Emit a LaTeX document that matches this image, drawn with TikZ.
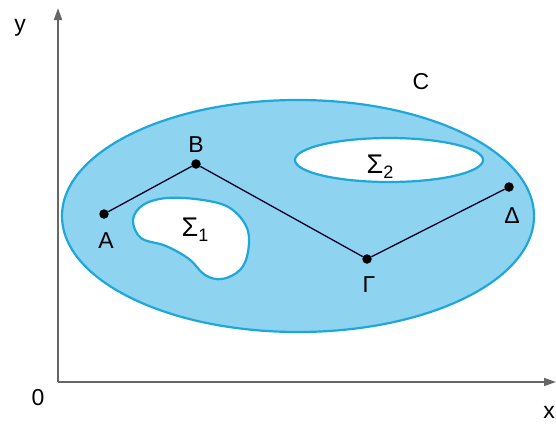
\documentclass[tikz,border=0pt]{standalone}
\usepackage{fontspec}
\setmainfont{Liberation Sans}
\usetikzlibrary{arrows.meta,positioning}
\definecolor{setblue}{HTML}{8ED3EF}
\definecolor{setedge}{HTML}{1EA7DA}
\newcommand{\lowidx}[1]{\raisebox{-0.35ex}{\fontsize{18}{20}\selectfont #1}}

\begin{document}
\begin{tikzpicture}[
  x=1pt, y=-1pt,
  axis/.style={draw=black!60, line width=1.6pt, -{Triangle[length=12pt, width=8pt]}},
  region/.style={fill=setblue, draw=setedge, line width=2.2pt},
  hole/.style={fill=white, draw=setedge, line width=2.2pt},
  dot/.style={circle, fill=black, inner sep=0pt, minimum size=9.5pt},
  route/.style={draw=black!85!blue, line width=1.3pt},
  lbl/.style={font=\fontsize{23}{26}\selectfont, inner sep=0pt}
]
\useasboundingbox (0,0) rectangle (556,424);

% axes
\coordinate (O) at (58,382);
\draw[axis] (O) -- (58,8);
\draw[axis] (O) -- (556,382);
\node[lbl] (ylab) at (20,28) {y};
\node[lbl] (olab) at (38,398) {0};
\node[lbl] (xlab) at (549,412) {x};

% the set C with its two holes
\draw[region] (298,216) ellipse [x radius=236, y radius=116];
\draw[hole] (389,160) ellipse [x radius=94, y radius=22];
\draw[hole] plot[smooth cycle, tension=0.6] coordinates {
  (133,220) (143,205) (167,198) (203,200) (230,208) (247,228)
  (248,252) (240,270) (222,279) (205,275) (189,259) (166,246)
  (141,238)};
\node[lbl] (C) at (421,82) {C};
\node[lbl] (S1) at (195,230) {\fontsize{27}{29}\selectfont Σ\lowidx{1}};
\node[lbl] (S2) at (380,167) {\fontsize{27}{29}\selectfont Σ\lowidx{2}};

% broken line A B Gamma Delta
\node[dot] (A) at (104,214) {};
\node[dot] (B) at (196,164) {};
\node[dot] (G) at (367,259) {};
\node[dot] (D) at (509,187) {};
\draw[route] (A) -- (B) -- (G) -- (D);
\node[lbl, below=14pt of A, xshift=2pt] (Alab) {A};
\node[lbl, above=6pt of B] (Blab) {B};
\node[lbl, below=13pt of G, xshift=2pt] (Glab) {Γ};
\node[lbl, below=16pt of D, xshift=3pt] (Dlab) {Δ};
\end{tikzpicture}
\end{document}
